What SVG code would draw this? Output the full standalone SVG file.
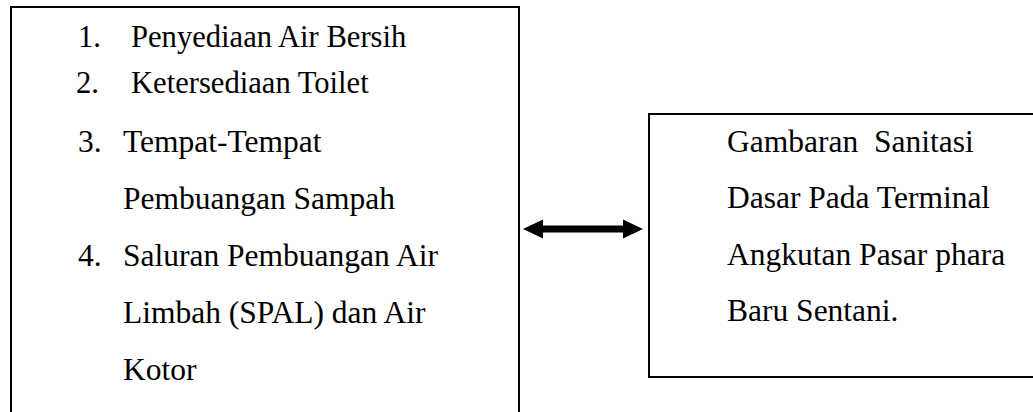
<svg xmlns="http://www.w3.org/2000/svg" width="1033" height="412" viewBox="0 0 1033 412">
<style>
.box{fill:#fff;stroke:#000;stroke-width:2}
.t{font-family:'Liberation Serif','Times New Roman',serif;font-size:31.5px;fill:#000}
.s{font-size:30.6px}
</style>
<rect width="1033" height="412" fill="#fff"/>
<g id="node-factors" font-family="'Liberation Serif', serif">
<rect class="box" x="11" y="7" width="508" height="430"/>
<text class="t s" x="78" y="47">1.</text><text class="t s" x="131" y="47">Penyediaan Air Bersih</text>
<text class="t s" x="76" y="93">2.</text><text class="t s" x="131" y="93">Ketersediaan Toilet</text>
<text class="t" x="78" y="152">3.</text><text class="t" x="123" y="152">Tempat-Tempat</text>
<text class="t" x="123" y="209">Pembuangan Sampah</text>
<text class="t" x="78" y="266">4.</text><text class="t" x="123" y="266">Saluran Pembuangan Air</text>
<text class="t" x="123" y="323">Limbah (SPAL) dan Air</text>
<text class="t" x="123" y="380">Kotor</text>
</g>
<g id="node-gambaran" font-family="'Liberation Serif', serif">
<rect class="box" x="649" y="114" width="400" height="263"/>
<text class="t" x="727" y="152" xml:space="preserve">Gambaran  Sanitasi</text>
<text class="t" x="727" y="208">Dasar Pada Terminal</text>
<text class="t" x="727" y="265">Angkutan Pasar phara</text>
<text class="t" x="727" y="321">Baru Sentani.</text>
</g>
<g id="connectors">
<path d="M523 229 L543 219.5 L543 225.5 L623 225.5 L623 219.5 L643 229 L623 238.5 L623 232.5 L543 232.5 L543 238.5 Z" fill="#000"/>
</g>
</svg>
